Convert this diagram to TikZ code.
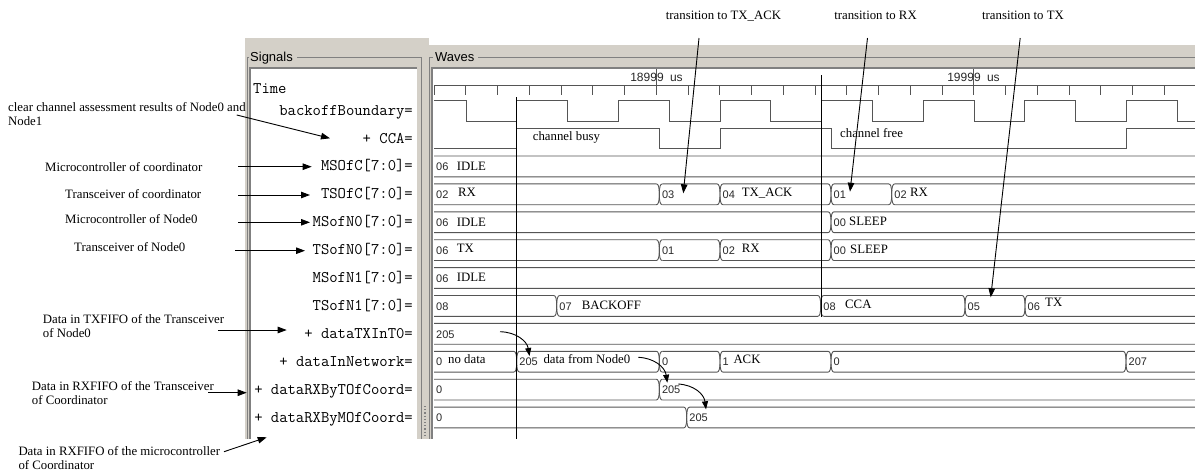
\documentclass[tikz,border=0pt]{standalone}
\usepackage{fontspec}
\setmainfont{Liberation Serif}
\setsansfont{Liberation Sans}
\usetikzlibrary{arrows.meta}
\definecolor{PanelGray}{RGB}{212, 208, 200}
\definecolor{FrameGray}{RGB}{128, 128, 128}
\definecolor{WaveGray}{RGB}{85, 85, 85}
\definecolor{ValInk}{RGB}{40, 40, 40}

% bus row: top edge, then the transition points (last one off the page)
\newcommand{\busrow}[2]{%
    \xdef\busprev{431}%
    \foreach \bx in {#2}{%
        \draw[wave] (\busprev+3,#1) -- (\bx-3,#1)
            .. controls (\bx-1,#1) and (\bx,#1+3) .. (\bx,#1+10.4)
            .. controls (\bx,#1+17.8) and (\bx-1,#1+20.8) .. (\bx-3,#1+20.8)
            -- (\busprev+3,#1+20.8);
        \draw[wave] (\bx+3,#1) .. controls (\bx+1,#1) and (\bx,#1+3) .. (\bx,#1+10.4)
            .. controls (\bx,#1+17.8) and (\bx+1,#1+20.8) .. (\bx+3,#1+20.8);
        \xdef\busprev{\bx}%
    }%
}

\begin{document}
\begin{tikzpicture}[
    x=1pt, y=-1pt,
    wave/.style={draw=WaveGray, line width=0.9pt},
    cursor/.style={draw=black, line width=1pt},
    framebox/.style={draw=FrameGray, line width=0.8pt},
    title/.style={font=\sffamily\fontsize{13}{14}\selectfont, anchor=base west, inner sep=0pt},
    signame/.style={font=\ttfamily\fontsize{16.2}{17}\selectfont, anchor=base east, inner sep=0pt},
    busval/.style={font=\sffamily\fontsize{11}{12}\selectfont, text=ValInk, anchor=base west, inner sep=0pt},
    buslbl/.style={font=\fontsize{12.8}{13}\selectfont, anchor=base west, inner sep=0pt},
    note/.style={font=\fontsize{12.8}{13.5}\selectfont, align=left, inner sep=0pt},
    notearr/.style={-{Triangle[length=9pt,width=6.5pt]}, line width=0.9pt, black},
    dataarr/.style={-{Triangle[length=8pt,width=6pt]}, line width=0.9pt, black}
]
    \useasboundingbox (0,0) rectangle (1195,475);

    % Panels
    \fill[PanelGray] (245,38) rectangle (429,438.5);
    \fill[PanelGray] (429,45) rectangle (1195,438.5);
    \draw[framebox] (297,57) -| (421.5,438.5);
    \draw[framebox] (249,57) -- (247,57) -- (247,438.5);
    \draw[framebox] (478,57) -- (1195,57);
    \draw[framebox] (433,57) -- (429.5,57) -- (429.5,438.5);
    \node[title] (sigtitle) at (250,61) {Signals};
    \node[title] (wavtitle) at (435,61) {Waves};
    \fill[white] (250,68) rectangle (417,438.5);
    \draw[FrameGray, line width=1.5pt] (250,438.5) -- (250,68) -- (417,68);
    \fill[white] (432,68) rectangle (1195,438.5);
    \draw[FrameGray, line width=1.5pt] (432,438.5) -- (432,68) -- (1195,68);
    \draw[FrameGray, dotted, line width=1.2pt] (425,406) -- (425,437);

    % Signal names
    \node[signame, anchor=base west] (sTime) at (253,93.3) {Time};
    \node[signame] (sBoff) at (413,115.1) {backoffBoundary=};
    \node[signame] (sCCA) at (413,143) {+ CCA=};
    \node[signame] (sMSOfC) at (413,170.9) {MSOfC[7:0]=};
    \node[signame] (sTSOfC) at (413,198.8) {TSOfC[7:0]=};
    \node[signame] (sMSofN0) at (413,226.7) {MSofN0[7:0]=};
    \node[signame] (sTSofN0) at (413,254.6) {TSofN0[7:0]=};
    \node[signame] (sMSofN1) at (413,282.5) {MSofN1[7:0]=};
    \node[signame] (sTSofN1) at (413,310.4) {TSofN1[7:0]=};
    \node[signame] (sTXInT0) at (413,338.3) {+ dataTXInT0=};
    \node[signame] (sInNet) at (413,366.2) {+ dataInNetwork=};
    \node[signame] (sRXByT) at (413,394.1) {+ dataRXByTOfCoord=};
    \node[signame] (sRXByM) at (413,422) {+ dataRXByMOfCoord=};

    % Time axis
    \draw[wave] (434,85) -- (1195,85);
    \foreach \k in {0,...,23}
        \draw[wave] (434+31.75*\k,85) -- (434+31.75*\k,95);
    \draw[wave] (656.25,69) -- (656.25,85);
    \draw[wave] (973.75,69) -- (973.75,85);
    \node[busval, anchor=base, font=\sffamily\fontsize{12}{13}\selectfont] (tA) at (656.5,81.7) {18999 \hspace{3pt}us};
    \node[busval, anchor=base, font=\sffamily\fontsize{12}{13}\selectfont] (tB) at (973.5,81.7) {19999 \hspace{3pt}us};

    % backoffBoundary and CCA
    \draw[wave] (434,100.2) -| (466,121) -| (516.8,100.2) -| (567.6,121) -| (618.4,100.2)
        -| (669.2,121) -| (720,100.2) -| (770.8,121) -| (821.6,100.2) -| (872.4,121)
        -| (923.2,100.2) -| (974,121) -| (1024.8,100.2) -| (1075.6,121) -| (1126.4,100.2)
        -| (1177.2,121) -- (1195,121);
    \draw[wave] (434,148.5) -| (516.8,128.1) -| (659.3,148.5) -| (720,128.1)
        -| (831,148.5) -| (1126.4,128.1) -- (1195,128.1);
    \node[buslbl] (busy) at (532.7,140) {channel busy};
    \node[buslbl] (free) at (840,137) {channel free};

    % Bus rows
    \busrow{156}{1199}
    \node[busval] (v2a) at (436,170.6) {06};
    \node[buslbl] (l2a) at (456.7,170.9) {IDLE};

    \busrow{183.9}{659.3,720,831,891.7,1199}
    \node[busval] (v3a) at (436,198.5) {02};
    \node[buslbl] (l3a) at (458,196) {RX};
    \node[busval] (v3b) at (661.8,198.5) {03};
    \node[busval] (v3c) at (722.5,198.5) {04};
    \node[buslbl] (l3c) at (741.7,196) {TX\_ACK};
    \node[busval] (v3d) at (833.5,198.5) {01};
    \node[busval] (v3e) at (894.2,198.5) {02};
    \node[buslbl] (l3e) at (910,196) {RX};

    \busrow{211.8}{831,1199}
    \node[busval] (v4a) at (436,226.4) {06};
    \node[buslbl] (l4a) at (456.7,226.4) {IDLE};
    \node[busval] (v4b) at (833.5,226.4) {00};
    \node[buslbl] (l4b) at (849,225) {SLEEP};

    \busrow{239.7}{659.3,720,831,1199}
    \node[busval] (v5a) at (436,254.3) {06};
    \node[buslbl] (l5a) at (456.7,252) {TX};
    \node[busval] (v5b) at (661.8,254.3) {01};
    \node[busval] (v5c) at (722.5,254.3) {02};
    \node[buslbl] (l5c) at (741.7,252) {RX};
    \node[busval] (v5d) at (833.5,254.3) {00};
    \node[buslbl] (l5d) at (850,253) {SLEEP};

    \busrow{267.6}{1199}
    \node[busval] (v6a) at (436,282.2) {06};
    \node[buslbl] (l6a) at (456.7,281) {IDLE};

    \busrow{295.5}{556.7,820.7,965,1025,1199}
    \node[busval] (v7a) at (436,310.1) {08};
    \node[busval] (v7b) at (559.2,310.1) {07};
    \node[buslbl] (l7b) at (581.7,309) {BACKOFF};
    \node[busval] (v7c) at (823.2,310.1) {08};
    \node[buslbl] (l7c) at (845,308.3) {CCA};
    \node[busval] (v7d) at (967.5,310.1) {05};
    \node[busval] (v7e) at (1027.5,310.1) {06};
    \node[buslbl] (l7e) at (1045,306) {TX};

    \busrow{323.4}{1199}
    \node[busval] (v8a) at (436,338) {205};

    \busrow{351.3}{516.7,659.3,720,831,1126,1199}
    \node[busval] (v9a) at (436,365.9) {0};
    \node[buslbl] (l9a) at (448,363.3) {no data};
    \node[busval] (v9b) at (519.2,365.9) {205};
    \node[buslbl] (l9b) at (543.3,363.3) {data from Node0};
    \node[busval] (v9c) at (661.8,365.9) {0};
    \node[busval] (v9d) at (722.5,365.9) {1};
    \node[buslbl] (l9d) at (733.3,363.3) {ACK};
    \node[busval] (v9e) at (833.5,365.9) {0};
    \node[busval] (v9f) at (1128.5,365.9) {207};

    \busrow{379.2}{659.3,1199}
    \node[busval] (v10a) at (436,393.8) {0};
    \node[busval] (v10b) at (661.8,393.8) {205};

    \busrow{407.1}{686.7,1199}
    \node[busval] (v11a) at (436,421.7) {0};
    \node[busval] (v11b) at (689.2,421.7) {205};

    % Cursors
    \draw[cursor] (516.8,97) -- (516.8,438.5);
    \draw[cursor] (821.6,75) -- (821.6,317);

    % Data hand-over
    \coordinate (txOut) at (500,331.7);
    \coordinate (netIn) at (529.5,356);
    \coordinate (netOut) at (638.3,357.3);
    \coordinate (rxtIn) at (667.3,382.7);
    \coordinate (rxtOut) at (678.3,384);
    \coordinate (rxmIn) at (706,409.3);
    \draw[dataarr] (txOut) .. controls (516,332) and (527,341) .. (netIn);
    \draw[dataarr] (netOut) .. controls (654,358) and (665,367) .. (rxtIn);
    \draw[dataarr] (rxtOut) .. controls (694,385) and (704,394) .. (rxmIn);

    % Transition notes
    \node[note, anchor=base] (trAck) at (723.5,19) {transition to TX\_ACK};
    \node[note, anchor=base] (trRx) at (875.5,19) {transition to RX};
    \node[note, anchor=base] (trTx) at (1023,19) {transition to TX};
    \coordinate (trAckTail) at (699,38);
    \coordinate (trAckTip) at (683.3,193.3);
    \coordinate (trRxTail) at (867.5,38);
    \coordinate (trRxTip) at (850,191.7);
    \coordinate (trTxTail) at (1020.2,38);
    \coordinate (trTxTip) at (990.7,297.3);
    \draw[notearr] (trAckTail) -- (trAckTip);
    \draw[notearr] (trRxTail) -- (trRxTip);
    \draw[notearr] (trTxTail) -- (trTxTip);

    % Signal notes
    \node[note, anchor=north west] (ccaNote) at (8,102.5) {clear channel assessment results of Node0 and\\Node1};
    \node[note, anchor=base west] (mcCoord) at (45,171.5) {Microcontroller of coordinator};
    \node[note, anchor=base west] (trCoord) at (65,198) {Transceiver of coordinator};
    \node[note, anchor=base west] (mcN0) at (65,223) {Microcontroller of Node0};
    \node[note, anchor=base west] (trN0) at (74,251.5) {Transceiver of Node0};
    \node[note, anchor=north west] (txfifo) at (42.7,314.5) {Data in TXFIFO of the Transceiver\\of Node0};
    \node[note, anchor=north west] (rxfifoT) at (31.7,381.3) {Data in RXFIFO of the Transceiver\\of Coordinator};
    \node[note, anchor=north west] (rxfifoM) at (18.3,446.3) {Data in RXFIFO of the microcontroller\\of Coordinator};

    \coordinate (ccaTail) at (236.7,115);
    \coordinate (ccaTip) at (330,138.3);
    \coordinate (mcCoordTail) at (238.3,166.7);
    \coordinate (mcCoordTip) at (311.7,166.7);
    \coordinate (trCoordTail) at (238.3,195);
    \coordinate (trCoordTip) at (310,195);
    \coordinate (mcN0Tail) at (238.3,222.3);
    \coordinate (mcN0Tip) at (310,222.3);
    \coordinate (trN0Tail) at (235,250.7);
    \coordinate (trN0Tip) at (305,250.7);
    \coordinate (txfifoTail) at (218.3,330);
    \coordinate (txfifoTip) at (286.7,330);
    \coordinate (rxfifoTTail) at (208.3,392.7);
    \coordinate (rxfifoTTip) at (246.7,392.7);
    \coordinate (rxfifoMTail) at (224,451.7);
    \coordinate (rxfifoMTip) at (266.7,437.3);
    \draw[notearr] (ccaTail) -- (ccaTip);
    \draw[notearr] (mcCoordTail) -- (mcCoordTip);
    \draw[notearr] (trCoordTail) -- (trCoordTip);
    \draw[notearr] (mcN0Tail) -- (mcN0Tip);
    \draw[notearr] (trN0Tail) -- (trN0Tip);
    \draw[notearr] (txfifoTail) -- (txfifoTip);
    \draw[notearr] (rxfifoTTail) -- (rxfifoTTip);
    \draw[notearr] (rxfifoMTail) -- (rxfifoMTip);

\end{tikzpicture}
\end{document}
